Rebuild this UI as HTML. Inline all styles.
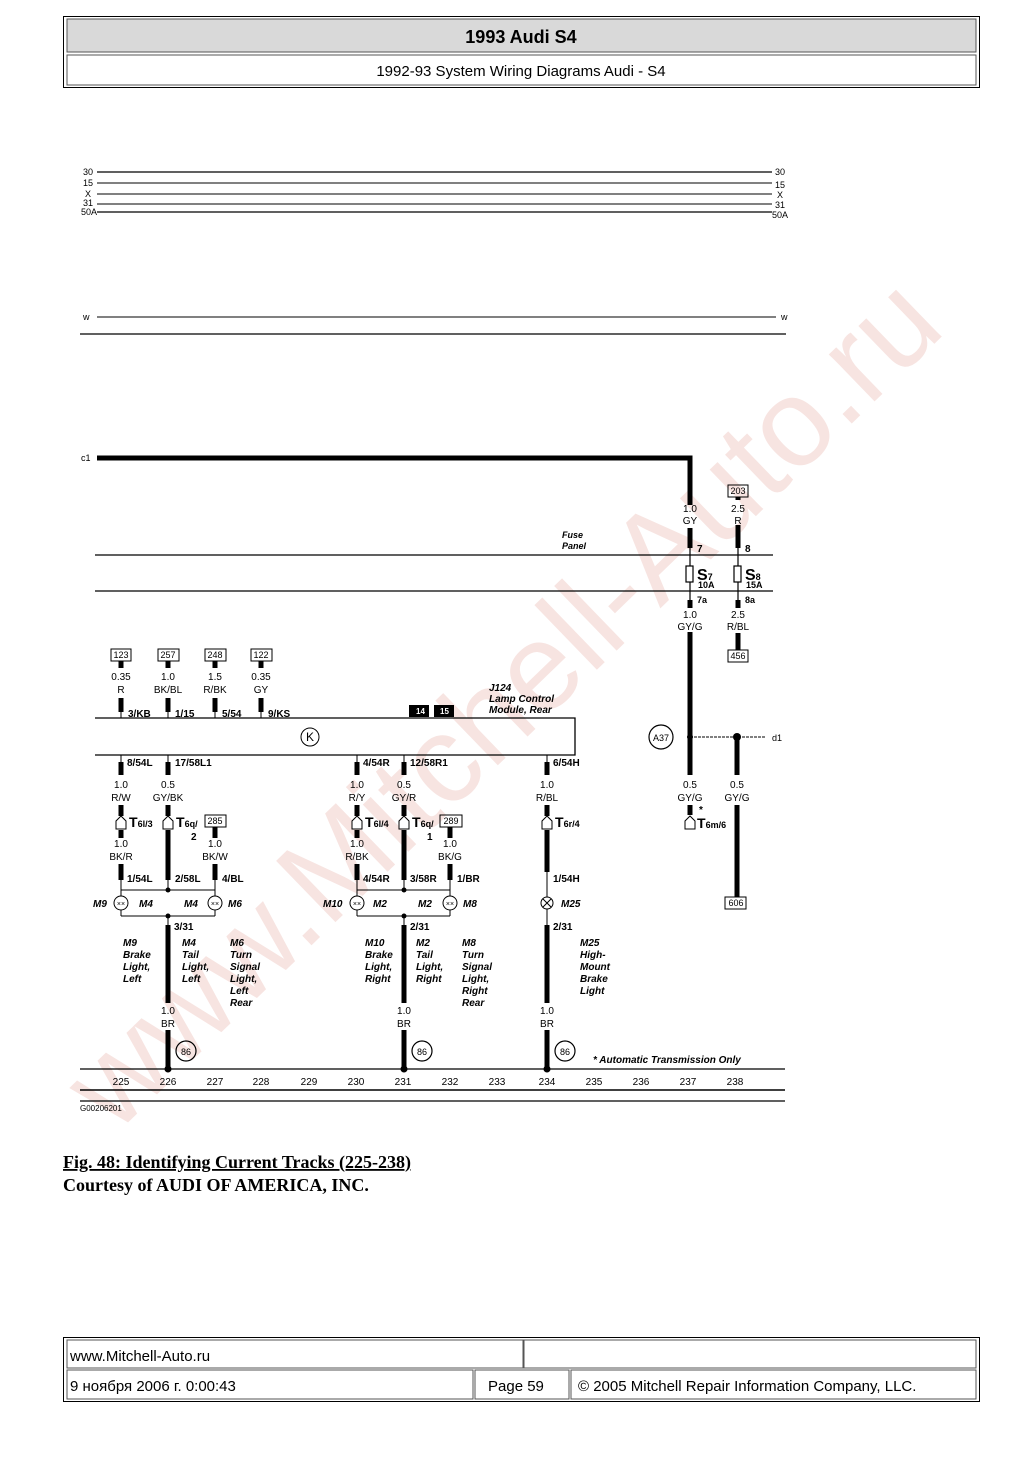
<!DOCTYPE html>
<html><head><meta charset="utf-8"><style>
html,body{margin:0;padding:0;background:#fff;}
body{width:1032px;height:1456px;position:relative;overflow:hidden;font-family:"Liberation Sans",sans-serif;}
svg text{font-family:"Liberation Sans",sans-serif;}
</style></head><body>
<svg width="1032" height="1456" viewBox="0 0 1032 1456" xmlns="http://www.w3.org/2000/svg">
<!-- watermark -->
<text x="0" y="0" transform="translate(115,1135) rotate(-44)" font-size="124" fill="#f7e4e1" font-family="Liberation Sans">www.Mitchell-Auto.ru</text>

<!-- header -->
<rect x="63.5" y="16.5" width="916" height="71" fill="none" stroke="#000"/>
<rect x="67" y="19" width="909" height="33" fill="#d9d9d9" stroke="#555"/>
<rect x="67" y="55" width="909" height="30" fill="#fff" stroke="#555"/>
<text x="521" y="43" font-size="18" font-weight="bold" text-anchor="middle">1993 Audi S4</text>
<text x="521" y="76" font-size="15" text-anchor="middle">1992-93 System Wiring Diagrams Audi - S4</text>

<g stroke="#000" fill="none">
<line x1="97" y1="172" x2="772" y2="172" stroke-width="1.3"/>
<line x1="97" y1="183" x2="772" y2="183"/>
<line x1="97" y1="194" x2="772" y2="194"/>
<line x1="97" y1="204" x2="772" y2="204"/>
<line x1="97" y1="212" x2="772" y2="212" stroke-width="1.3"/>
<line x1="97" y1="317" x2="776" y2="317"/>
<line x1="80" y1="334" x2="786" y2="334" stroke-width="1.3"/>
<polyline points="97,458 690,458 690,505" stroke-width="5"/>
<line x1="690" y1="528" x2="690" y2="548" stroke-width="5"/>
<line x1="690" y1="548" x2="690" y2="600" stroke-width="1.2"/>
<line x1="690" y1="600" x2="690" y2="608" stroke-width="5"/>
<line x1="690" y1="632" x2="690" y2="775" stroke-width="5"/>
<line x1="738" y1="497" x2="738" y2="500" stroke-width="5"/>
<line x1="738" y1="525" x2="738" y2="548" stroke-width="5"/>
<line x1="738" y1="548" x2="738" y2="600" stroke-width="1.2"/>
<line x1="738" y1="600" x2="738" y2="608" stroke-width="5"/>
<line x1="738" y1="633" x2="738" y2="650" stroke-width="5"/>
<line x1="95" y1="555" x2="773" y2="555" stroke-width="1.3"/>
<line x1="95" y1="591" x2="773" y2="591" stroke-width="1.3"/>
<rect x="686" y="566" width="7" height="16" fill="#fff" stroke-width="1.2"/>
<rect x="734" y="566" width="7" height="16" fill="#fff" stroke-width="1.2"/>
<polyline points="95,718 575,718 575,755 95,755" stroke-width="1.3"/>
<circle cx="310" cy="737" r="9"/>
<g stroke-width="5">
<line x1="121" y1="661" x2="121" y2="668"/><line x1="168" y1="661" x2="168" y2="668"/><line x1="215" y1="661" x2="215" y2="668"/><line x1="261" y1="661" x2="261" y2="668"/>
<line x1="121" y1="698" x2="121" y2="712"/><line x1="168" y1="698" x2="168" y2="712"/><line x1="215" y1="698" x2="215" y2="712"/><line x1="261" y1="698" x2="261" y2="712"/>
</g>
<g stroke-width="1">
<line x1="121" y1="710" x2="121" y2="718"/><line x1="168" y1="710" x2="168" y2="718"/><line x1="215" y1="710" x2="215" y2="718"/><line x1="261" y1="710" x2="261" y2="718"/>
</g>
<rect x="111" y="649" width="20" height="12" stroke-width="1"/>
<rect x="158" y="649" width="21" height="12" stroke-width="1"/>
<rect x="205" y="649" width="21" height="12" stroke-width="1"/>
<rect x="251" y="649" width="21" height="12" stroke-width="1"/>
<rect x="728" y="485" width="20" height="12" stroke-width="1"/>
<rect x="728" y="650" width="20" height="12" stroke-width="1"/>
<rect x="725" y="897" width="21" height="12" stroke-width="1"/>
<g stroke-width="5">
<line x1="121" y1="762" x2="121" y2="775"/><line x1="168" y1="762" x2="168" y2="775"/>
<line x1="357" y1="762" x2="357" y2="775"/><line x1="404" y1="762" x2="404" y2="775"/>
<line x1="547" y1="762" x2="547" y2="775"/>
<line x1="121" y1="805" x2="121" y2="816"/><line x1="168" y1="805" x2="168" y2="816"/>
<line x1="357" y1="805" x2="357" y2="816"/><line x1="404" y1="805" x2="404" y2="816"/>
<line x1="547" y1="805" x2="547" y2="816"/>
<line x1="121" y1="830" x2="121" y2="838"/>
<line x1="168" y1="830" x2="168" y2="880"/>
<line x1="357" y1="830" x2="357" y2="838"/>
<line x1="404" y1="830" x2="404" y2="880"/>
<line x1="547" y1="830" x2="547" y2="872"/>
<line x1="215" y1="827" x2="215" y2="838"/><line x1="450" y1="827" x2="450" y2="838"/>
<line x1="121" y1="864" x2="121" y2="880"/><line x1="215" y1="864" x2="215" y2="880"/>
<line x1="357" y1="864" x2="357" y2="880"/><line x1="450" y1="864" x2="450" y2="880"/>
<line x1="168" y1="925" x2="168" y2="1003"/><line x1="168" y1="1030" x2="168" y2="1069"/>
<line x1="404" y1="925" x2="404" y2="1003"/><line x1="404" y1="1030" x2="404" y2="1069"/>
<line x1="547" y1="925" x2="547" y2="1003"/><line x1="547" y1="1030" x2="547" y2="1069"/>
<line x1="690" y1="805" x2="690" y2="815"/>
<line x1="737" y1="737" x2="737" y2="775"/>
<line x1="737" y1="805" x2="737" y2="897"/>
</g>
<g stroke-width="1">
<line x1="121" y1="755" x2="121" y2="762"/><line x1="168" y1="755" x2="168" y2="762"/>
<line x1="357" y1="755" x2="357" y2="762"/><line x1="404" y1="755" x2="404" y2="762"/><line x1="547" y1="755" x2="547" y2="762"/>
<line x1="121" y1="878" x2="121" y2="897"/><line x1="215" y1="878" x2="215" y2="897"/>
<line x1="357" y1="878" x2="357" y2="897"/><line x1="450" y1="878" x2="450" y2="897"/>
<line x1="168" y1="878" x2="168" y2="890"/><line x1="404" y1="878" x2="404" y2="890"/>
<line x1="547" y1="872" x2="547" y2="897"/><line x1="547" y1="909" x2="547" y2="925"/>
<line x1="121" y1="909" x2="121" y2="916"/><line x1="215" y1="909" x2="215" y2="916"/>
<line x1="121" y1="916" x2="215" y2="916"/><line x1="121" y1="890" x2="215" y2="890"/>
<line x1="357" y1="916" x2="450" y2="916"/><line x1="357" y1="890" x2="450" y2="890"/>
<line x1="357" y1="909" x2="357" y2="916"/><line x1="450" y1="909" x2="450" y2="916"/>
<line x1="168" y1="916" x2="168" y2="925"/><line x1="404" y1="916" x2="404" y2="925"/>
<line x1="690" y1="737" x2="765" y2="737" stroke-dasharray="3,1"/>
</g>
<circle cx="121" cy="903" r="7" fill="#fff"/><circle cx="215" cy="903" r="7" fill="#fff"/>
<circle cx="357" cy="903" r="7" fill="#fff"/><circle cx="450" cy="903" r="7" fill="#fff"/>
<circle cx="547" cy="903" r="6" fill="#fff"/>
<path d="M543 899l8 8M551 899l-8 8" stroke-width="1"/>
<g stroke-width="1" fill="#fff">
<path d="M116 829v-8l5-5 5 5v8z"/><path d="M163 829v-8l5-5 5 5v8z"/>
<path d="M352 829v-8l5-5 5 5v8z"/><path d="M399 829v-8l5-5 5 5v8z"/>
<path d="M542 829v-8l5-5 5 5v8z"/><path d="M685 829v-8l5-5 5 5v8z"/>
</g>
<rect x="205" y="815" width="21" height="12" stroke-width="1"/>
<rect x="440" y="815" width="22" height="12" stroke-width="1"/>
<line x1="80" y1="1069" x2="785" y2="1069" stroke-width="1.3"/>
<line x1="80" y1="1090" x2="785" y2="1090" stroke-width="1.5"/>
<line x1="80" y1="1101" x2="785" y2="1101" stroke-width="1.3"/>
<circle cx="186" cy="1051" r="10" stroke-width="1.2"/>
<circle cx="422" cy="1051" r="10" stroke-width="1.2"/>
<circle cx="565" cy="1051" r="10" stroke-width="1.2"/>
<circle cx="661" cy="737" r="12" stroke-width="1.2"/>
</g>
<g fill="#000">
<circle cx="168" cy="1069" r="3.5"/><circle cx="404" cy="1069" r="3.5"/><circle cx="547" cy="1069" r="3.5"/>
<circle cx="690" cy="737" r="3"/><circle cx="737" cy="737" r="4"/>
<circle cx="168" cy="890" r="2.5"/><circle cx="168" cy="916" r="2.5"/>
<circle cx="404" cy="890" r="2.5"/><circle cx="404" cy="916" r="2.5"/>
<rect x="409" y="705" width="20" height="12"/><rect x="434" y="705" width="20" height="12"/>
</g>

<g font-size="9" fill="#000">
<text x="83" y="175">30</text><text x="83" y="186">15</text><text x="85" y="197">X</text><text x="83" y="206">31</text><text x="81" y="215">50A</text>
<text x="775" y="175">30</text><text x="775" y="188">15</text><text x="777" y="198">X</text><text x="775" y="208">31</text><text x="772" y="218">50A</text>
<text x="83" y="320">w</text><text x="781" y="320">w</text>
<text x="81" y="461">c1</text>
<text x="772" y="741">d1</text>
<text x="80" y="1111" font-size="8">G00206201</text>
</g>

<g font-size="10" text-anchor="middle">
<text x="121" y="658" font-size="9">123</text><text x="168" y="658" font-size="9">257</text><text x="215" y="658" font-size="9">248</text><text x="261" y="658" font-size="9">122</text>
<text x="738" y="494" font-size="9">203</text><text x="738" y="659" font-size="9">456</text><text x="736" y="906" font-size="9">606</text>
<text x="215" y="824" font-size="9">285</text><text x="451" y="824" font-size="9">289</text>
<text x="121" y="680">0.35</text><text x="121" y="693">R</text>
<text x="168" y="680">1.0</text><text x="168" y="693">BK/BL</text>
<text x="215" y="680">1.5</text><text x="215" y="693">R/BK</text>
<text x="261" y="680">0.35</text><text x="261" y="693">GY</text>
<text x="690" y="512">1.0</text><text x="690" y="524">GY</text>
<text x="738" y="512">2.5</text><text x="738" y="524">R</text>
<text x="690" y="618">1.0</text><text x="690" y="630">GY/G</text>
<text x="738" y="618">2.5</text><text x="738" y="630">R/BL</text>
<text x="121" y="788">1.0</text><text x="121" y="801">R/W</text>
<text x="168" y="788">0.5</text><text x="168" y="801">GY/BK</text>
<text x="357" y="788">1.0</text><text x="357" y="801">R/Y</text>
<text x="404" y="788">0.5</text><text x="404" y="801">GY/R</text>
<text x="547" y="788">1.0</text><text x="547" y="801">R/BL</text>
<text x="690" y="788">0.5</text><text x="690" y="801">GY/G</text>
<text x="737" y="788">0.5</text><text x="737" y="801">GY/G</text>
<text x="121" y="847">1.0</text><text x="121" y="860">BK/R</text>
<text x="215" y="847">1.0</text><text x="215" y="860">BK/W</text>
<text x="357" y="847">1.0</text><text x="357" y="860">R/BK</text>
<text x="450" y="847">1.0</text><text x="450" y="860">BK/G</text>
<text x="168" y="1014">1.0</text><text x="168" y="1027">BR</text>
<text x="404" y="1014">1.0</text><text x="404" y="1027">BR</text>
<text x="547" y="1014">1.0</text><text x="547" y="1027">BR</text>
<text x="310" y="741" font-size="12">K</text>
<text x="661" y="741" font-size="9">A37</text>
<text x="186" y="1055" font-size="9">86</text><text x="422" y="1055" font-size="9">86</text><text x="565" y="1055" font-size="9">86</text>
<text x="121" y="1085">225</text><text x="168" y="1085">226</text><text x="215" y="1085">227</text><text x="261" y="1085">228</text><text x="309" y="1085">229</text><text x="356" y="1085">230</text><text x="403" y="1085">231</text><text x="450" y="1085">232</text><text x="497" y="1085">233</text><text x="547" y="1085">234</text><text x="594" y="1085">235</text><text x="641" y="1085">236</text><text x="688" y="1085">237</text><text x="735" y="1085">238</text>
</g>

<g font-size="10" font-weight="bold">
<text x="128" y="717">3/KB</text><text x="175" y="717">1/15</text><text x="222" y="717">5/54</text><text x="268" y="717">9/KS</text>
<text x="416" y="714" fill="#fff" font-size="8">14</text><text x="440" y="714" fill="#fff" font-size="8">15</text>
<text x="127" y="766">8/54L</text><text x="175" y="766">17/58L1</text>
<text x="363" y="766">4/54R</text><text x="410" y="766">12/58R1</text>
<text x="553" y="766">6/54H</text>
<text x="127" y="882">1/54L</text><text x="175" y="882">2/58L</text><text x="222" y="882">4/BL</text>
<text x="363" y="882">4/54R</text><text x="410" y="882">3/58R</text><text x="457" y="882">1/BR</text>
<text x="553" y="882">1/54H</text>
<text x="174" y="930">3/31</text><text x="410" y="930">2/31</text><text x="553" y="930">2/31</text>
<text x="697" y="552">7</text><text x="745" y="552">8</text>
<text x="697" y="603" font-size="9">7a</text><text x="745" y="603" font-size="9">8a</text>
<text x="697" y="580" font-size="16">S<tspan font-size="9">7</tspan></text>
<text x="745" y="580" font-size="16">S<tspan font-size="9">8</tspan></text>
<text x="698" y="588" font-size="9">10A</text><text x="746" y="588" font-size="9">15A</text>
<text x="129" y="827" font-size="14">T<tspan font-size="9">6l/3</tspan></text>
<text x="176" y="827" font-size="14">T<tspan font-size="9">6q/</tspan></text>
<text x="191" y="840">2</text>
<text x="365" y="827" font-size="14">T<tspan font-size="9">6l/4</tspan></text>
<text x="412" y="827" font-size="14">T<tspan font-size="9">6q/</tspan></text>
<text x="427" y="840">1</text>
<text x="555" y="827" font-size="14">T<tspan font-size="9">6r/4</tspan></text>
<text x="697" y="828" font-size="14">T<tspan font-size="9">6m/6</tspan></text>
<text x="699" y="813">*</text>
</g>

<g font-size="10" font-weight="bold" font-style="italic">
<text x="562" y="538" font-size="9">Fuse</text><text x="562" y="549" font-size="9">Panel</text>
<text x="489" y="691">J124</text><text x="489" y="702">Lamp Control</text><text x="489" y="713">Module, Rear</text>
<text x="93" y="907">M9</text><text x="139" y="907">M4</text><text x="184" y="907">M4</text><text x="228" y="907">M6</text>
<text x="323" y="907">M10</text><text x="373" y="907">M2</text><text x="418" y="907">M2</text><text x="463" y="907">M8</text>
<text x="561" y="907">M25</text>
<text x="123" y="946">M9</text><text x="123" y="958">Brake</text><text x="123" y="970">Light,</text><text x="123" y="982">Left</text>
<text x="182" y="946">M4</text><text x="182" y="958">Tail</text><text x="182" y="970">Light,</text><text x="182" y="982">Left</text>
<text x="230" y="946">M6</text><text x="230" y="958">Turn</text><text x="230" y="970">Signal</text><text x="230" y="982">Light,</text><text x="230" y="994">Left</text><text x="230" y="1006">Rear</text>
<text x="365" y="946">M10</text><text x="365" y="958">Brake</text><text x="365" y="970">Light,</text><text x="365" y="982">Right</text>
<text x="416" y="946">M2</text><text x="416" y="958">Tail</text><text x="416" y="970">Light,</text><text x="416" y="982">Right</text>
<text x="462" y="946">M8</text><text x="462" y="958">Turn</text><text x="462" y="970">Signal</text><text x="462" y="982">Light,</text><text x="462" y="994">Right</text><text x="462" y="1006">Rear</text>
<text x="580" y="946">M25</text><text x="580" y="958">High-</text><text x="580" y="970">Mount</text><text x="580" y="982">Brake</text><text x="580" y="994">Light</text>
<text x="593" y="1063">*  Automatic Transmission Only</text>
</g>
<g font-size="7" text-anchor="middle"><text x="121" y="906">××</text><text x="215" y="906">××</text><text x="357" y="906">××</text><text x="450" y="906">××</text></g>

<text x="63" y="1168" font-size="18" font-weight="bold" style="font-family:'Liberation Serif',serif" text-decoration="underline">Fig. 48: Identifying Current Tracks (225-238)</text>
<text x="63" y="1191" font-size="18" font-weight="bold" style="font-family:'Liberation Serif',serif">Courtesy of AUDI OF AMERICA, INC.</text>

<rect x="63.5" y="1337.5" width="916" height="64" fill="none" stroke="#000"/>
<rect x="67" y="1340" width="456" height="28" fill="none" stroke="#555"/>
<rect x="524" y="1340" width="452" height="28" fill="none" stroke="#555"/>
<rect x="67" y="1370" width="406" height="29" fill="none" stroke="#555"/>
<rect x="475" y="1370" width="94" height="29" fill="none" stroke="#555"/>
<rect x="571" y="1370" width="405" height="29" fill="none" stroke="#555"/>
<text x="70" y="1361" font-size="15">www.Mitchell-Auto.ru</text>
<text x="70" y="1391" font-size="15" style="font-family:'Liberation Sans','DejaVu Sans',sans-serif">9 ноября 2006 г. 0:00:43</text>
<text x="488" y="1391" font-size="15">Page 59</text>
<text x="578" y="1391" font-size="15">© 2005 Mitchell Repair Information Company, LLC.</text>
</svg>
</body></html>
